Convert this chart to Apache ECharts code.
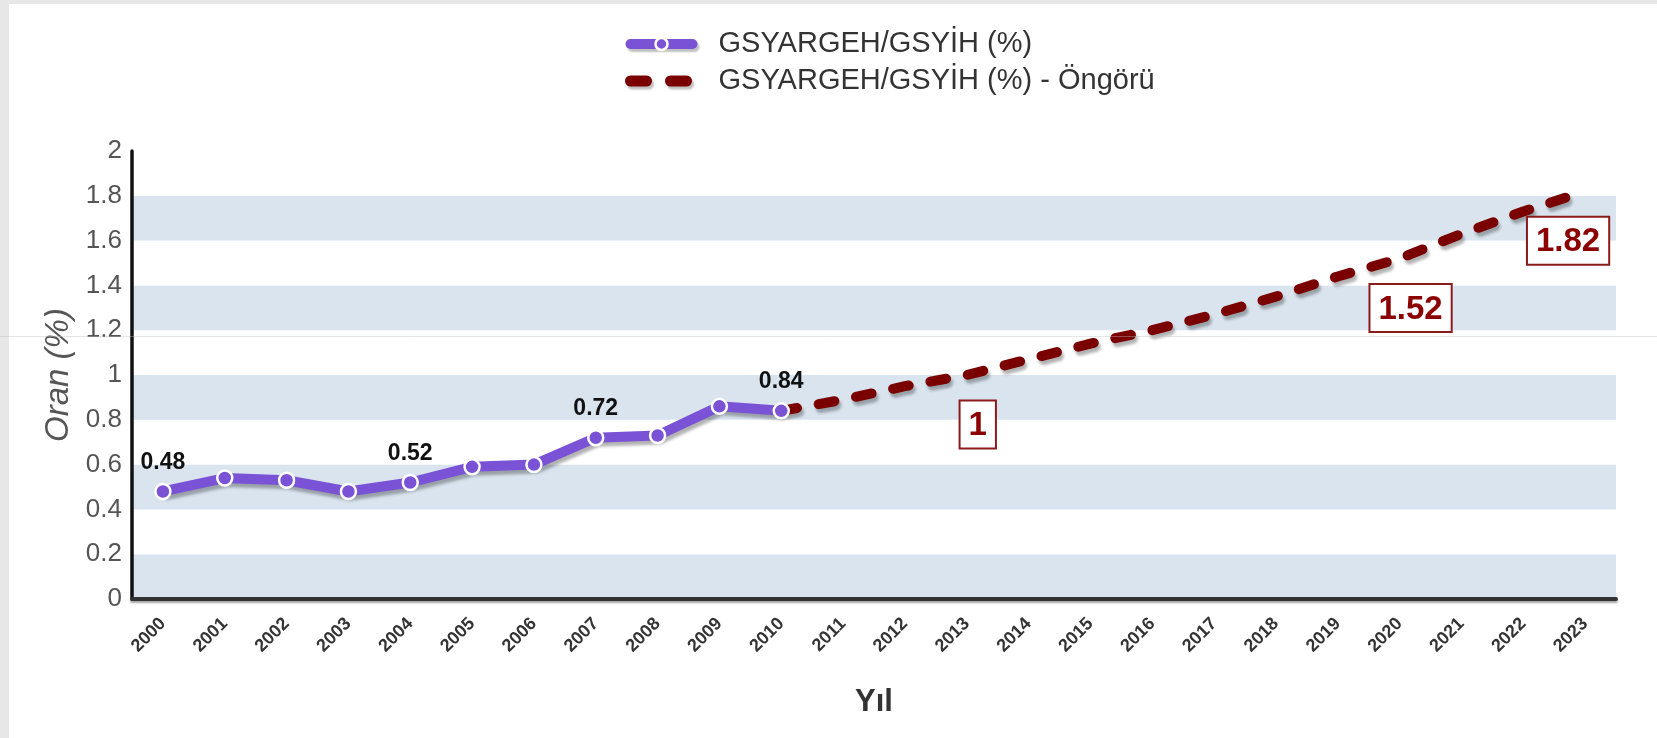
<!DOCTYPE html>
<html>
<head>
<meta charset="utf-8">
<script src="https://cdn.jsdelivr.net/npm/echarts@6/dist/echarts.min.js"></script>
<style>
  html, body { margin: 0; padding: 0; background: #e7e7e7; width: 1657px; height: 738px; overflow: hidden; }
  #panel { position: absolute; left: 9px; top: 4px; right: 0; bottom: 0; background: #ffffff; }
  #chart { position: absolute; left: 0; top: 0; width: 1657px; height: 738px; }
</style>
</head>
<body>
<div id="panel"></div>
<div id="chart"></div>
<script>
// ---- data ----
const years = ['2000','2001','2002','2003','2004','2005','2006','2007','2008','2009','2010','2011',
               '2012','2013','2014','2015','2016','2017','2018','2019','2020','2021','2022','2023'];
const actualValues = [0.48, 0.54, 0.53, 0.48, 0.52, 0.59, 0.60, 0.72, 0.73, 0.86, 0.84];
const forecastValues = [0.84, 0.89, 0.95, 1.00, 1.07, 1.14, 1.20, 1.27, 1.35, 1.44, 1.52, 1.63, 1.73, 1.82];
const forecastStartYear = '2010';
const actualLabelYears = ['2000', '2004', '2007', '2010'];
const forecastLabelYears = ['2013', '2020', '2023'];
const seriesNames = ['GSYARGEH/GSYİH (%)', 'GSYARGEH/GSYİH (%) - Öngörü'];
const yAxisName = 'Oran (%)';
const xAxisName = 'Yıl';

// ---- build ----
const FONT = 'Arial, "Liberation Sans", sans-serif';
const PURPLE = '#7a52d6';
const DARKRED = '#7a0000';
const forecastOffsets = { '2013': [11, 0], '2020': [11, 0], '2023': [-17, 0] };

const actualData = years.map((y, i) => {
  if (i >= actualValues.length) return null;
  const v = actualValues[i];
  if (actualLabelYears.includes(y)) {
    return { value: v, label: { show: true } };
  }
  return v;
});

const startIdx = years.indexOf(forecastStartYear);
const forecastData = years.map((y, i) => {
  const k = i - startIdx;
  if (k < 0 || k >= forecastValues.length) return null;
  const v = forecastValues[k];
  if (forecastLabelYears.includes(y)) {
    return { value: v, label: { show: true, offset: forecastOffsets[y] || [0, 0] } };
  }
  return v;
});

const chart = echarts.init(document.getElementById('chart'), null, { renderer: 'canvas' });
chart.setOption({
  backgroundColor: 'transparent',
  animation: false,
  textStyle: { fontFamily: FONT },
  legend: {
    orient: 'vertical',
    left: 620,
    top: 24,
    itemWidth: 62,
    itemHeight: 15,
    itemGap: 7,
    textStyle: { fontSize: 29, color: '#333', fontFamily: FONT, lineHeight: 30, padding: [0, 0, 0, 21] },
    data: [
      {
        name: seriesNames[0],
        lineStyle: { width: 10, cap: 'round', color: PURPLE,
          shadowColor: 'rgba(0,0,0,0.25)', shadowOffsetX: 2, shadowOffsetY: 3, shadowBlur: 2 },
        itemStyle: { color: PURPLE, borderColor: '#fff', borderWidth: 2.5 }
      },
      {
        name: seriesNames[1],
        lineStyle: { width: 11, cap: 'round', color: DARKRED, type: [16, 24],
          shadowColor: 'rgba(0,0,0,0.25)', shadowOffsetX: 2, shadowOffsetY: 3, shadowBlur: 2 }
      }
    ]
  },
  grid: { left: 132, right: 41, top: 151, bottom: 139, containLabel: false },
  xAxis: {
    type: 'category',
    data: years,
    boundaryGap: true,
    name: xAxisName,
    nameLocation: 'middle',
    nameGap: 88,
    nameTextStyle: { fontSize: 31, fontWeight: 'bold', color: '#333', fontFamily: FONT },
    axisLine: { show: true, lineStyle: { color: '#333', width: 4, shadowColor: 'rgba(0,0,0,0.35)', shadowOffsetY: 2, shadowBlur: 2 } },
    axisTick: { show: false },
    axisLabel: { rotate: 45, interval: 0, fontSize: 18, fontWeight: 'bold', color: '#333', margin: 22, fontFamily: FONT },
    splitLine: { show: false }
  },
  yAxis: {
    type: 'value',
    min: 0,
    max: 2,
    interval: 0.2,
    name: yAxisName,
    nameLocation: 'middle',
    nameGap: 56,
    nameTextStyle: { fontSize: 33, fontStyle: 'italic', color: '#555', fontFamily: FONT },
    axisLine: { show: true, lineStyle: { color: '#111', width: 3.5 } },
    axisTick: { show: false },
    axisLabel: { fontSize: 26, color: '#555', margin: 10, fontFamily: FONT },
    splitLine: { show: false },
    splitArea: { show: true, areaStyle: { color: ['#d9e4ef', '#ffffff'] } }
  },
  graphic: [{
    type: 'line',
    z: 100,
    silent: true,
    shape: { x1: 0, y1: 336.5, x2: 1657, y2: 336.5 },
    style: { stroke: 'rgba(190,190,190,0.4)', lineWidth: 1 }
  }],
  series: [
    {
      name: seriesNames[1],
      type: 'line',
      data: forecastData,
      symbol: 'circle',
      symbolSize: 1,
      showSymbol: true,
      itemStyle: { color: 'rgba(0,0,0,0)' },
      lineStyle: {
        color: DARKRED, width: 10, type: [16, 22], cap: 'round',
        shadowColor: 'rgba(0,0,0,0.3)', shadowOffsetX: 2, shadowOffsetY: 4, shadowBlur: 3
      },
      label: {
        show: false,
        position: 'bottom',
        distance: 26,
        fontSize: 33,
        fontWeight: 'bold',
        color: '#8b0000',
        backgroundColor: '#ffffff',
        borderColor: '#8b1a1a',
        borderWidth: 2,
        padding: [8, 8, 5, 8],
        fontFamily: FONT,
        opacity: 1
      },
      z: 2
    },
    {
      name: seriesNames[0],
      type: 'line',
      data: actualData,
      symbol: 'circle',
      symbolSize: 15,
      showSymbol: true,
      itemStyle: { color: PURPLE, borderColor: '#ffffff', borderWidth: 2.5 },
      lineStyle: {
        color: PURPLE, width: 10,
        shadowColor: 'rgba(0,0,0,0.3)', shadowOffsetX: 2, shadowOffsetY: 4, shadowBlur: 3
      },
      label: {
        show: false,
        position: 'top',
        distance: 9,
        fontSize: 23,
        fontWeight: 'bold',
        color: '#111',
        fontFamily: FONT
      },
      z: 3
    }
  ]
});
</script>
</body>
</html>
